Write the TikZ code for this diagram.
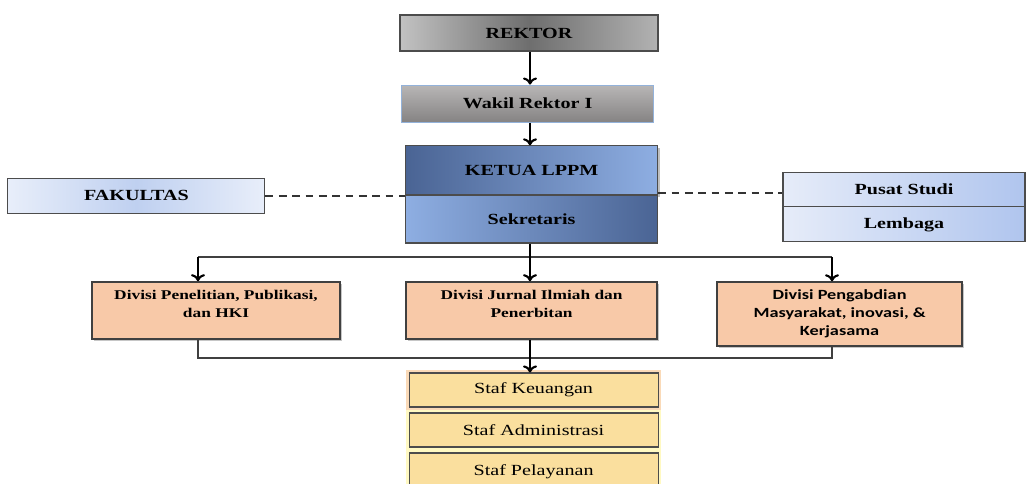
\documentclass[tikz,border=0pt]{standalone}
\usepackage{fontspec}
\setmainfont{Liberation Serif}[FakeStretch=1.3]
\newfontfamily\timeslike{Liberation Serif}[FakeStretch=1.3]
\newfontfamily\calibrilike{Carlito}[FakeStretch=1.3]
\usetikzlibrary{shadows, arrows.meta}

\definecolor{rekLeft}{HTML}{C2C2C2}
\definecolor{rekMid}{HTML}{6E6E6E}
\definecolor{rekRight}{HTML}{B2B2B2}
\definecolor{wakTop}{HTML}{B8B6B6}
\definecolor{wakBot}{HTML}{858383}
\definecolor{wakLine}{HTML}{93B2DA}
\definecolor{ketDark}{HTML}{4A6494}
\definecolor{ketLight}{HTML}{8EAEE2}
\definecolor{fakLight}{HTML}{E8EEFA}
\definecolor{fakMid}{HTML}{BFD0F0}
\definecolor{pusLeft}{HTML}{E6ECF9}
\definecolor{pusRight}{HTML}{B0C5EE}
\definecolor{divFill}{HTML}{F8C9A8}
\definecolor{stafFill}{HTML}{FADF9E}
\definecolor{stafGlow}{HTML}{FFF6A8}
\definecolor{keuGlow}{HTML}{F8CDB4}

\begin{document}
\begin{tikzpicture}[
            box/.style={rectangle, draw=black!70, line width=0.8pt, align=center, inner sep=1pt},
            headBox/.style={box, minimum width=6.3cm, font=\fontsize{11}{13}\timeslike\bfseries},
            rektorBox/.style={headBox, minimum width=6.45cm, minimum height=0.9cm, left color=rekLeft, right color=rekRight, middle color=rekMid},
            wakilBox/.style={headBox, draw=wakLine, minimum height=0.925cm, top color=wakTop, bottom color=wakBot},
            ketuaBox/.style={headBox, minimum height=1.225cm, left color=ketDark, right color=ketLight, drop shadow={shadow xshift=1.5pt, shadow yshift=-1.5pt, opacity=0.5}},
            sekBox/.style={headBox, minimum height=1.2cm, left color=ketLight, right color=ketDark},
            sideBox/.style={box, minimum height=0.875cm, font=\fontsize{11}{13}\timeslike\bfseries},
            divBox/.style={box, draw=black!75, line width=1pt, fill=divFill, font=\fontsize{9.5}{12.8}\timeslike\bfseries, drop shadow={shadow xshift=1.2pt, shadow yshift=-1.2pt, opacity=0.45}},
            stafBox/.style={box, minimum width=6.225cm, minimum height=0.85cm, fill=stafFill, font=\fontsize{11}{13}\timeslike, preaction={draw=stafGlow, line width=4pt, opacity=0.7}},
            link/.style={line width=1.5pt, -{To[length=5pt, width=10pt]}},
            branch/.style={line width=0.9pt, black!75},
            dashLink/.style={line width=1.4pt, black!80, dash pattern=on 5.5pt off 4pt}]

            \useasboundingbox (0,0) rectangle (25.7,-12.1);
            \clip (0,0) rectangle (25.7,-12.1);

            \coordinate (axis) at (13.25,0);

            \node[rektorBox] (R) at (13.225,-0.825) {REKTOR};
            \node[wakilBox] (W) at (13.19,-2.59) {Wakil Rektor I};
            \node[ketuaBox] (K) at (13.29,-4.26) {KETUA LPPM};
            \node[sekBox] (S) at (13.29,-5.475) {Sekretaris};

            \node[sideBox, minimum width=6.425cm, left color=fakLight, right color=fakLight, middle color=fakMid] (F) at (3.41,-4.89) {FAKULTAS};
            \node[sideBox, minimum width=6.05cm, left color=pusLeft, right color=pusRight] (P) at (22.6,-4.74) {Pusat Studi};
            \node[sideBox, minimum width=6.05cm, left color=pusLeft, right color=pusRight] (L) at (22.6,-5.61) {Lembaga};

            \node[divBox, minimum width=6.2cm, minimum height=1.425cm] (D1) at (5.4,-7.76) {Divisi Penelitian, Publikasi,\\dan HKI\\[-3pt]};
            \node[divBox, minimum width=6.275cm, minimum height=1.425cm] (D2) at (13.29,-7.76) {Divisi Jurnal Ilmiah dan\\Penerbitan\\[-3pt]};
            \node[divBox, minimum width=6.125cm, minimum height=1.6cm, font=\fontsize{10}{12.8}\calibrilike\bfseries] (D3) at (20.99,-7.85) {Divisi Pengabdian\\Masyarakat, inovasi, \&\\Kerjasama};

            \node[stafBox, preaction={draw=keuGlow, line width=4pt, opacity=0.7}] (SK) at (13.34,-9.75) {Staf Keuangan};
            \node[stafBox] (SA) at (13.34,-10.75) {Staf Administrasi};
            \node[stafBox, minimum height=0.95cm] (SP) at (13.34,-11.8) {Staf Pelayanan};

            \coordinate (t1) at (4.95,-6.425);
            \coordinate (t3) at (20.8,-6.425);
            \coordinate (b1) at (4.95,-8.95);
            \coordinate (b3) at (20.8,-8.95);

            \draw[link] (R.south -| axis) -- (W.north -| axis);
            \draw[link] (W.south -| axis) -- (K.north -| axis);
            \draw[dashLink] (F.east) -- (F.east -| K.west);
            \draw[dashLink] (K.east |- 0,-4.83) -- (P.west |- 0,-4.83);

            \draw[branch] (t1) -- (t3);
            \draw[link] (S.south -| axis) -- (D2.north -| axis);
            \draw[link] (t1) -- (t1 |- D1.north);
            \draw[link] (t3) -- (t3 |- D3.north);

            \draw[branch] (b1 |- D1.south) -- (b1) -- (b3) -- (b3 |- D3.south);
            \draw[link] (D2.south -| axis) -- (SK.north -| axis);

        \end{tikzpicture}
\end{document}
